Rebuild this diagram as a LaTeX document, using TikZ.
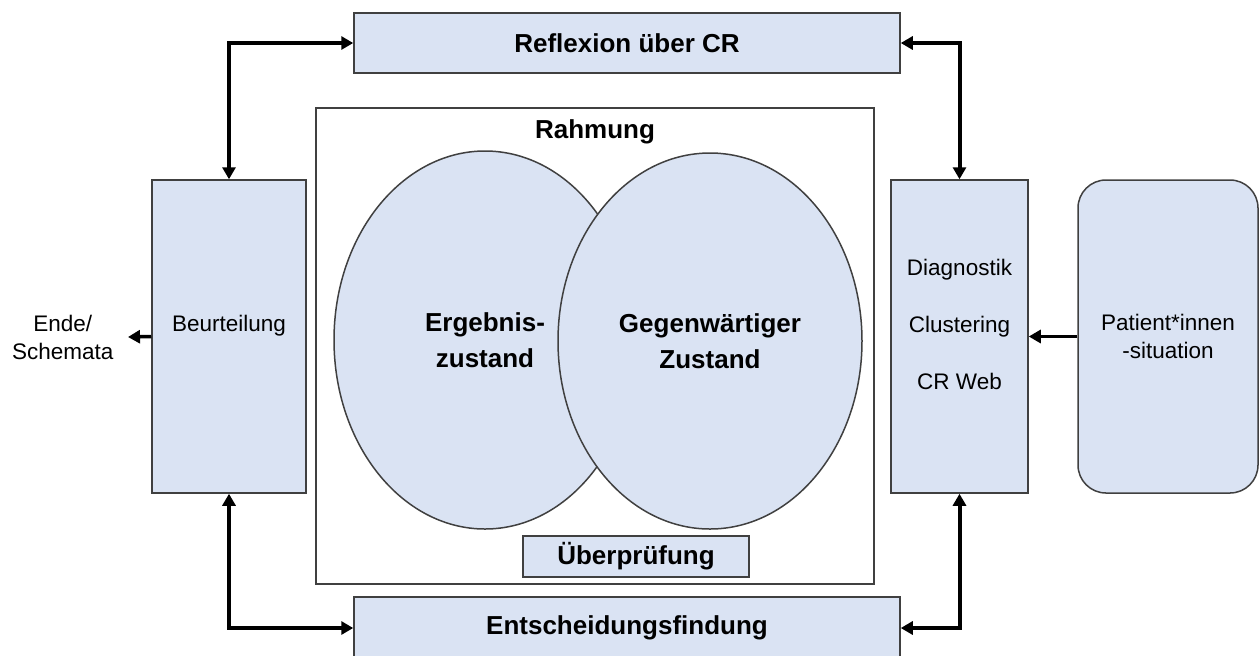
\documentclass[tikz,border=0pt]{standalone}
\usepackage{fontspec}
\setmainfont{Liberation Sans}
\usetikzlibrary{arrows.meta,positioning,shapes}
\definecolor{boxblue}{HTML}{DAE3F3}
\definecolor{rand}{HTML}{404040}
\tikzstyle{block}=[draw=rand, fill=boxblue, rectangle, line width=0.75pt, align=center]
\tikzstyle{zustand}=[draw=rand, fill=boxblue, ellipse, line width=0.75pt, align=center]
\tikzstyle{txt}=[font=\fontsize{11.25}{14}\selectfont, align=center]
\tikzstyle{fett}=[font=\bfseries\fontsize{13}{18}\selectfont, align=center]
\tikzstyle{link}=[<->, line width=2pt]
\tikzstyle{pfeil}=[->, line width=1.75pt]

\begin{document}
\begin{tikzpicture}[x=0.5pt, y=-0.5pt, >={Triangle[length=6pt,width=6.5pt]}]
    \useasboundingbox (0,0) rectangle (1259,655);
    % Rahmung mit den beiden Zustaenden
    \node [draw=rand, line width=0.75pt, minimum width=279pt, minimum height=238pt] (rahmen) at (595,346) {};
    \node [fett] (rahmung) at (595,132) {Rahmung};
    \node [zustand, fett, minimum width=151pt, minimum height=189pt] (ergebnis) at (485,340) {Ergebnis-\\zustand};
    \node [zustand, fett, minimum width=152pt, minimum height=188pt] (gegenwart) at (710,341) {Gegenwärtiger\\Zustand};
    \node [block, fett, minimum width=113pt, minimum height=18.5pt] (pruefung) at (636,556.5) {Überprüfung};
    % Kaesten aussen
    \node [block, fett, minimum width=273pt, minimum height=30pt] (reflexion) at (627,43) {Reflexion über CR};
    \node [block, fett, minimum width=273pt, minimum height=31pt] (entscheidung) at (627,628) {Entscheidungsfindung};
    \node [block, minimum width=77pt, minimum height=156.5pt] (beurteilung) at (229,336.5) {};
    \node [txt] (beurtext) at (229,326) {Beurteilung};
    \node [block, minimum width=68.5pt, minimum height=156.5pt] (diagnostik) at (959.5,336.5) {};
    \node [txt, font=\fontsize{11.25}{28.5}\selectfont] (diagtext) at (959.5,324) {Diagnostik\\Clustering\\CR Web};
    \node [block, txt, rounded corners=14pt, minimum width=90pt, minimum height=156.5pt] (patient) at (1168,336.5) {Patient*innen\\-situation};
    \coordinate (ende) at (128,337);
    \node [txt, left=3.75pt of ende] (schemata) {Ende/\\Schemata};
    % Verbindungen
    \draw[link] (beurteilung.north) |- (reflexion.west);
    \draw[link] (reflexion.east) -| (diagnostik.north);
    \draw[link] (beurteilung.south) |- (entscheidung.west);
    \draw[link] (diagnostik.south) |- (entscheidung.east);
    \draw[pfeil] (patient.west) -- (diagnostik.east);
    \draw[pfeil] (beurteilung.west) -- (ende);
\end{tikzpicture}
\end{document}
